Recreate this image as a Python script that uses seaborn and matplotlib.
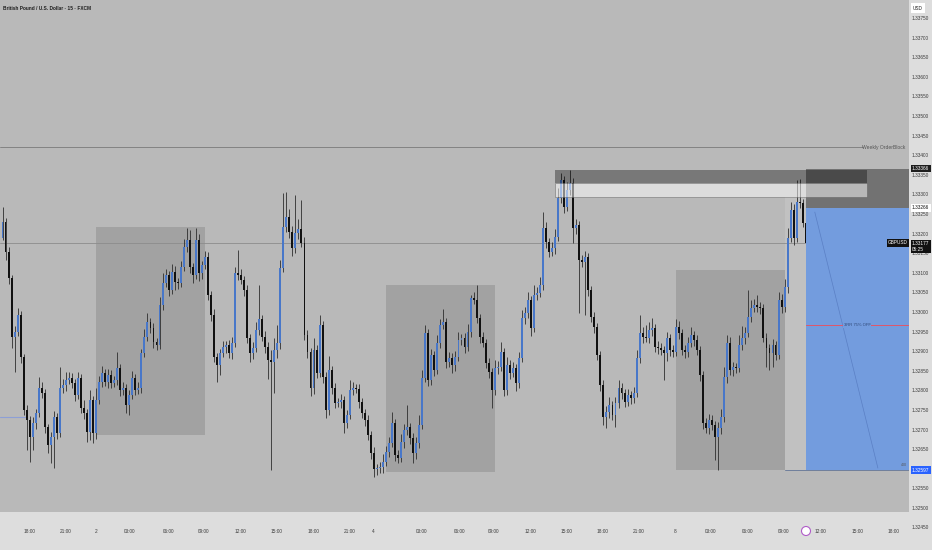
import numpy as np
import pandas as pd
import matplotlib
matplotlib.use("Agg")
import matplotlib.pyplot as plt
import matplotlib.patches as mpatches
import seaborn as sns

sns.set_theme(style="white")
plt.rcParams["font.family"] = ["Liberation Sans", "DejaVu Sans"]

# GBPUSD 15 min candles (open of bar n = close of bar n-1)
first_open = 1.33189
close = [
    1.33230, 1.33153, 1.33087, 1.32936, 1.32949, 1.32992, 1.32885, 1.32750, 1.32725, 1.32681,
    1.32717, 1.32742, 1.32806, 1.32793, 1.32707, 1.32661, 1.32681, 1.32732, 1.32691, 1.32806,
    1.32814, 1.32827, 1.32832, 1.32819, 1.32788, 1.32832, 1.32755, 1.32742, 1.32694, 1.32776,
    1.32691, 1.32776, 1.32822, 1.32844, 1.32822, 1.32839, 1.32819, 1.32827, 1.32857, 1.32801,
    1.32806, 1.32763, 1.32788, 1.32832, 1.32801, 1.32806, 1.32895, 1.32936, 1.32975, 1.32959,
    1.32924, 1.32916, 1.33018, 1.33074, 1.33094, 1.33056, 1.33102, 1.33077, 1.33074, 1.33115,
    1.33166, 1.33184, 1.33115, 1.33094, 1.33184, 1.33099, 1.33120, 1.33140, 1.33043, 1.32992,
    1.32885, 1.32865, 1.32895, 1.32911, 1.32916, 1.32895, 1.32921, 1.33099, 1.33094, 1.33082,
    1.33056, 1.32934, 1.32895, 1.32908, 1.32954, 1.32982, 1.32936, 1.32911, 1.32878, 1.32872,
    1.32903, 1.32921, 1.33112, 1.33217, 1.33242, 1.33204, 1.33163, 1.33201, 1.33212, 1.33176,
    1.32941, 1.32898, 1.32806, 1.32903, 1.32844, 1.32967, 1.32834, 1.32750, 1.32852, 1.32806,
    1.32768, 1.32771, 1.32776, 1.32717, 1.32737, 1.32801, 1.32806, 1.32804, 1.32771, 1.32742,
    1.32725, 1.32686, 1.32641, 1.32600, 1.32602, 1.32605, 1.32618, 1.32643, 1.32666, 1.32717,
    1.32635, 1.32628, 1.32669, 1.32699, 1.32707, 1.32679, 1.32641, 1.32666, 1.32712, 1.32832,
    1.32946, 1.32827, 1.32890, 1.32852, 1.32921, 1.32967, 1.32975, 1.32872, 1.32883, 1.32865,
    1.32885, 1.32929, 1.32934, 1.32911, 1.32949, 1.33036, 1.33031, 1.32985, 1.32936, 1.32921,
    1.32870, 1.32847, 1.32801, 1.32857, 1.32860, 1.32898, 1.32801, 1.32865, 1.32844, 1.32857,
    1.32819, 1.32883, 1.32985, 1.32997, 1.33031, 1.32959, 1.33043, 1.33048, 1.33069, 1.33214,
    1.33179, 1.33153, 1.33163, 1.33191, 1.33291, 1.33337, 1.33268, 1.33311, 1.33329, 1.33214,
    1.33222, 1.33133, 1.33128, 1.33140, 1.33056, 1.32987, 1.32962, 1.32890, 1.32814, 1.32732,
    1.32745, 1.32763, 1.32737, 1.32768, 1.32806, 1.32793, 1.32771, 1.32788, 1.32781, 1.32793,
    1.32883, 1.32946, 1.32936, 1.32934, 1.32954, 1.32959, 1.32911, 1.32908, 1.32903, 1.32895,
    1.32934, 1.32903, 1.32898, 1.32962, 1.32946, 1.32903, 1.32898, 1.32921, 1.32941, 1.32929,
    1.32903, 1.32839, 1.32717, 1.32704, 1.32725, 1.32712, 1.32681, 1.32704, 1.32732, 1.32834,
    1.32921, 1.32852, 1.32860, 1.32857, 1.32916, 1.32934, 1.32946, 1.32987, 1.33010, 1.33018,
    1.33013, 1.33010, 1.32934, 1.32908, 1.32895, 1.32916, 1.32890, 1.33031, 1.33013, 1.33064,
    1.33189, 1.33260, 1.33189, 1.33281, 1.33278, 1.33227, 1.33177,
]

# upper / lower shadows, in pips
wick_up = [
    3.8, 1.0, 1.2, 0.8, 1.5, 1.8, 1.0, 0.8, 1.2, 1.0,
    1.5, 1.2, 2.8, 1.5, 1.0, 0.8, 1.2, 1.5, 1.0, 5.4,
    1.5, 2.0, 1.5, 1.2, 1.0, 1.5, 1.0, 2.0, 1.2, 2.5,
    1.0, 3.0, 1.5, 1.8, 1.0, 1.5, 1.2, 1.0, 4.1, 1.0,
    1.5, 1.0, 1.2, 1.8, 1.0, 1.5, 1.2, 2.0, 2.3, 1.0,
    1.2, 1.0, 2.0, 2.5, 1.5, 1.0, 2.0, 1.5, 1.0, 1.5,
    2.0, 3.0, 2.5, 1.0, 3.0, 1.5, 1.0, 1.5, 1.2, 1.0,
    1.5, 1.0, 1.2, 1.5, 1.0, 1.2, 1.5, 1.5, 5.9, 1.5,
    1.0, 1.2, 1.0, 1.5, 2.0, 8.7, 1.0, 1.5, 1.2, 2.5,
    3.0, 4.5, 2.0, 8.7, 6.4, 2.0, 1.5, 9.7, 2.5, 7.4,
    1.5, 1.2, 1.0, 3.0, 1.2, 2.5, 1.0, 1.2, 3.5, 1.0,
    1.2, 1.0, 1.5, 1.0, 1.2, 2.5, 1.5, 1.0, 1.2, 1.0,
    1.0, 1.2, 1.0, 1.5, 1.0, 1.2, 2.0, 1.5, 1.5, 2.8,
    1.0, 1.2, 2.0, 1.5, 5.6, 1.0, 1.2, 1.5, 2.5, 2.0,
    2.0, 1.2, 1.5, 1.0, 2.0, 1.5, 3.3, 1.0, 1.5, 1.2,
    1.5, 2.0, 1.0, 1.2, 2.0, 0.8, 1.5, 3.8, 1.0, 1.2,
    1.0, 1.2, 1.0, 2.0, 1.5, 2.5, 1.0, 2.0, 1.2, 1.5,
    1.0, 1.5, 2.0, 1.5, 2.0, 1.0, 2.5, 1.5, 2.0, 4.1,
    1.5, 1.0, 1.5, 2.0, 2.5, 1.8, 1.0, 2.0, 3.3, 1.2,
    1.5, 1.0, 1.2, 1.5, 1.0, 1.0, 1.2, 1.0, 1.0, 1.2,
    1.5, 2.0, 1.0, 1.5, 2.0, 1.2, 1.0, 1.5, 1.0, 1.5,
    2.0, 4.6, 1.5, 3.0, 2.0, 2.5, 1.0, 1.5, 1.2, 1.0,
    1.5, 1.0, 1.2, 2.0, 1.5, 1.0, 1.2, 1.5, 2.0, 1.0,
    1.2, 1.0, 1.0, 1.2, 1.5, 1.2, 1.0, 1.5, 2.0, 2.5,
    2.0, 1.5, 1.2, 1.0, 2.5, 3.0, 1.5, 6.9, 2.0, 1.5,
    2.5, 1.2, 1.0, 1.2, 1.0, 1.5, 1.0, 2.0, 1.5, 2.0,
    2.5, 2.0, 1.5, 5.6, 5.9, 1.0, 1.2,
]
wick_dn = [
    0.5, 2.0, 1.5, 2.8, 9.0, 1.0, 1.5, 1.2, 7.6, 6.4,
    3.3, 1.5, 1.0, 1.2, 1.5, 2.0, 4.5, 7.9, 1.5, 1.0,
    1.2, 1.5, 1.0, 1.2, 1.5, 1.0, 1.2, 1.5, 2.5, 2.0,
    2.5, 1.5, 1.0, 1.2, 1.0, 1.5, 1.2, 1.0, 1.2, 1.5,
    1.2, 2.0, 2.6, 1.0, 1.2, 1.0, 1.2, 1.0, 1.0, 1.2,
    1.5, 1.2, 1.0, 1.2, 1.0, 1.5, 1.0, 2.0, 1.5, 1.0,
    1.0, 1.2, 1.5, 2.0, 1.0, 2.0, 1.5, 1.0, 1.2, 1.5,
    1.2, 4.3, 2.5, 1.0, 1.5, 1.2, 1.5, 1.0, 1.2, 1.0,
    1.5, 1.2, 2.3, 1.5, 1.0, 1.2, 1.0, 1.5, 5.0, 27.6,
    7.9, 2.0, 1.5, 1.0, 1.2, 1.5, 2.0, 1.2, 1.5, 1.0,
    1.2, 1.5, 2.0, 1.5, 1.2, 1.0, 1.5, 2.0, 1.2, 1.5,
    1.2, 1.0, 1.5, 2.5, 1.2, 1.0, 1.2, 1.0, 1.5, 1.2,
    1.5, 1.2, 1.5, 2.0, 1.5, 1.2, 1.5, 1.0, 1.2, 1.0,
    1.5, 1.2, 1.0, 1.5, 1.2, 1.5, 2.5, 1.5, 1.2, 1.0,
    1.0, 1.5, 1.2, 1.5, 1.0, 1.2, 1.0, 1.5, 1.2, 2.0,
    1.5, 1.0, 1.2, 1.5, 1.0, 1.2, 1.0, 1.2, 1.5, 1.0,
    1.2, 1.5, 4.6, 1.2, 1.5, 1.0, 1.5, 1.2, 1.5, 1.0,
    2.0, 1.2, 1.0, 1.5, 1.2, 2.0, 1.0, 1.2, 1.0, 1.2,
    1.5, 1.2, 1.0, 1.5, 1.0, 1.2, 1.5, 1.0, 1.2, 3.8,
    1.5, 13.5, 1.2, 13.5, 1.5, 1.2, 1.5, 1.2, 1.5, 2.0,
    2.8, 1.5, 1.2, 3.1, 1.2, 1.5, 1.2, 1.0, 1.5, 1.2,
    1.0, 1.2, 1.5, 1.0, 1.2, 1.5, 1.2, 1.5, 1.2, 6.9,
    2.0, 1.5, 1.2, 1.0, 1.5, 1.2, 1.5, 1.2, 1.0, 1.5,
    1.2, 1.5, 1.5, 1.2, 1.5, 1.2, 5.9, 8.4, 1.5, 1.2,
    1.5, 1.2, 1.5, 1.2, 1.0, 1.2, 1.5, 1.0, 1.2, 1.0,
    1.2, 1.5, 1.0, 4.8, 4.4, 3.5, 1.2, 1.0, 1.5, 1.2,
    1.5, 1.0, 1.8, 1.0, 1.2, 1.0, 1.0,
]

time_ticks = [8.9, 20.9, 30.9, 42.2, 54.9, 66.7, 78.9, 90.8, 102.9, 114.8, 122.8,
              138.8, 151.5, 162.7, 175.0, 186.9, 198.7, 210.8, 222.7, 234.6,
              246.9, 258.8, 271.0, 283.3, 295.2]
time_labels = ["18:00", "21:00", "2", "03:00", "06:00", "09:00", "12:00", "15:00",
               "18:00", "21:00", "4", "03:00", "06:00", "09:00", "12:00", "15:00",
               "18:00", "21:00", "8", "03:00", "06:00", "09:00", "12:00", "15:00",
               "18:00"]
price_ticks = [1.3245, 1.3250, 1.3255, 1.3260, 1.3265, 1.3270, 1.3275, 1.3280,
               1.3285, 1.3290, 1.3295, 1.3300, 1.3305, 1.3310, 1.3315, 1.3320,
               1.3325, 1.3330, 1.3335, 1.3340, 1.3345, 1.3350, 1.3355, 1.3360,
               1.3365, 1.3370, 1.3375]

# drawings: (bar from, bar to, price low, price high)
range_boxes = [(31.0, 67.0, 1.32686, 1.33217),
               (127.0, 163.0, 1.32592, 1.33069),
               (223.0, 259.1, 1.32597, 1.33107)]
weekly_ob = 1.33421
last_price = 1.33177
entry, stop, target = 1.33266, 1.33366, 1.32597
partial_tp = 1.32967
old_level = 1.32732

df = pd.DataFrame({"close": close, "wick_up": wick_up, "wick_dn": wick_dn})
df["open"] = [first_open] + close[:-1]
df["bar"] = np.arange(len(df))
top = df[["open", "close"]].max(axis=1)
bot = df[["open", "close"]].min(axis=1)
df["high"] = top + df["wick_up"] * 1e-4
df["low"] = bot - df["wick_dn"] * 1e-4

BG = "#b9b9b9"
UP = "#4877c9"
DOWN = "#111111"
FS = 3.4

fig = plt.figure(figsize=(9.32, 5.5), dpi=100, facecolor="#dddddd")
ax = fig.add_axes([0, 38 / 550, 909 / 932, 512 / 550])
ax.set_facecolor(BG)
x_lo, x_hi = -0.83, 300.2
y_lo, y_hi = 1.32490, 1.33796
for s in ax.spines.values():
    s.set_visible(False)

# grey range boxes
for x0, x1, p0, p1 in range_boxes:
    ax.add_patch(mpatches.Rectangle((x0, p0), x1 - x0, p1 - p0, facecolor="black",
                                    alpha=0.12, lw=0, zorder=1))

# light strip before the position
ax.add_patch(mpatches.Rectangle((259.1, target), 266.1 - 259.1, 1.33293 - target,
                                facecolor="white", alpha=0.12, lw=0, zorder=1))

# horizontal lines
ax.plot([x_lo, 285.0], [weekly_ob, weekly_ob], color="#7a7a7a", lw=0.6, zorder=1)
ax.axhline(last_price, color="#8c8c8c", lw=0.6, zorder=1)
ax.plot([x_lo, 7.4], [old_level, old_level], color="#8d9fd6", lw=0.8, zorder=1)

# short position tool
ax.add_patch(mpatches.Rectangle((266.1, entry), x_hi - 266.1, stop - entry,
                                facecolor="black", alpha=0.38, lw=0, zorder=4))
ax.add_patch(mpatches.Rectangle((266.1, target), x_hi - 266.1, entry - target,
                                facecolor="#739cde", lw=0, zorder=4))
ax.plot([269.0, 289.9], [1.33255, 1.32602], color="#5a7fc4", lw=0.5, zorder=5)
ax.plot([266.1, x_hi], [partial_tp, partial_tp], color="#e0566a", lw=0.7, zorder=5)
ax.text(283.0, partial_tp, "3RR 75% OFF", fontsize=3.0, color="#2e4675", ha="center",
        va="center", zorder=6,
        bbox=dict(facecolor="#739cde", edgecolor="none", pad=0.6))
ax.plot([259.1, x_hi], [target, target], color="#6f7f9c", lw=0.7, zorder=5)
ax.text(299.5, target + 0.00007, "400", fontsize=2.6, color="#555555", ha="right",
        va="bottom", zorder=6)

# supply bands
ax.add_patch(mpatches.Rectangle((182.9, 1.33329), 286.3 - 182.9, stop - 1.33329 - 0.00004,
                                facecolor="black", alpha=0.35, lw=0, zorder=5))
ax.add_patch(mpatches.Rectangle((182.9, 1.33293), 286.3 - 182.9, 1.33329 - 1.33293,
                                facecolor="white", alpha=0.5, edgecolor="#555555",
                                lw=0.6, zorder=5))

# candles
ax.vlines(df["bar"], df["low"], df["high"], color="#2e2e2e", lw=0.6, zorder=2)
body = np.maximum(top - bot, 0.000025)
colors = np.where(df["close"] >= df["open"], UP, DOWN)
ax.bar(df["bar"], body, bottom=bot, width=0.64, color=colors, linewidth=0, zorder=3)

# axes ticks
ax.yaxis.tick_right()
ax.set_yticks(price_ticks[1:])
ax.set_yticklabels([f"{v:.5f}" for v in price_ticks[1:]])
ax.tick_params(axis="y", length=0, pad=2.2, labelsize=FS, labelcolor="#3a3a3a")
ax.set_xticks(time_ticks)
ax.set_xticklabels(time_labels)
ax.tick_params(axis="x", length=0, pad=12, labelsize=FS, labelcolor="#3a3a3a")
ax.grid(False)
ax.set_xlim(x_lo, x_hi)
ax.set_ylim(y_lo, y_hi)

# price labels on the scale
ytr = ax.get_yaxis_transform()
ax.text(1.0033, price_ticks[0], f"{price_ticks[0]:.5f}", fontsize=FS, color="#3a3a3a",
        ha="left", va="center", transform=ytr, clip_on=False)
lab = dict(fontsize=FS, ha="left", va="center", transform=ytr, clip_on=False, zorder=20)
ax.text(1.0033, stop, "1.33366", color="white",
        bbox=dict(facecolor="#1e1e1e", edgecolor="none", pad=1.0), **lab)
ax.text(1.0033, entry, "1.33266", color="#111111",
        bbox=dict(facecolor="white", edgecolor="none", pad=1.0), **lab)
ax.text(1.0033, last_price - 0.0001, "1.33177\n05:25", color="white", linespacing=1.15,
        bbox=dict(facecolor="#111111", edgecolor="none", pad=1.0), **lab)
ax.text(0.999, last_price, "GBPUSD", fontsize=FS, color="white", ha="right",
        va="center", transform=ytr, zorder=20,
        bbox=dict(facecolor="#111111", edgecolor="none", pad=1.0))
ax.text(1.0033, target, "1.32597", color="white",
        bbox=dict(facecolor="#2962ff", edgecolor="none", pad=1.0), **lab)
ax.text(0.996, weekly_ob, "Weekly OrderBlock", fontsize=3.6, color="#555555",
        ha="right", va="center", transform=ytr, zorder=6)

fig.text(918 / 932, 1 - 8 / 550, "USD", fontsize=FS, color="#222222", ha="center",
         va="center", bbox=dict(facecolor="white", edgecolor="none", pad=1.5))
fig.text(3 / 932, 1 - 8 / 550, "British Pound / U.S. Dollar \u00b7 15 \u00b7 FXCM",
         fontsize=3.4, color="#1e1e1e", ha="left", va="center", fontweight="bold")
fig.add_artist(mpatches.Ellipse((806 / 932, 1 - 531 / 550), 9 / 932, 9 / 550,
                                transform=fig.transFigure, facecolor="white",
                                edgecolor="#b05cc8", lw=0.8))

fig.savefig("out.png", dpi=100, facecolor=fig.get_facecolor())
